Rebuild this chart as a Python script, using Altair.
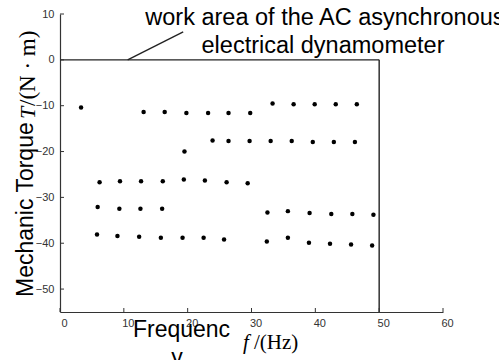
import altair as alt
import pandas as pd

# ---- data ----
freq = [3.3, 13.1, 16.4, 19.8, 23.2, 26.4, 29.8, 33.3, 36.6, 39.9, 43.2, 46.5,
        23.9, 26.4, 29.7, 33.0, 36.3, 39.6, 42.9, 46.2,
        19.5,
        6.2, 9.4, 12.7, 16.1, 19.4, 22.7, 26.1, 29.4,
        5.9, 9.3, 12.6, 16.0,
        5.8, 9.0, 12.4, 15.8, 19.2, 22.5, 25.7,
        32.5, 35.7, 39.1, 42.5, 45.8, 49.1,
        32.4, 35.7, 39.0, 42.3, 45.6, 48.9]
torque = [-10.4, -11.4, -11.4, -11.6, -11.6, -11.6, -11.6, -9.5, -9.7, -9.7, -9.7, -9.7,
          -17.6, -17.7, -17.7, -17.7, -17.7, -17.9, -17.9, -17.9,
          -20.0,
          -26.7, -26.5, -26.5, -26.5, -26.1, -26.3, -26.7, -26.9,
          -32.1, -32.5, -32.5, -32.5,
          -38.1, -38.4, -38.6, -38.8, -38.8, -38.8, -39.2,
          -33.3, -33.0, -33.4, -33.6, -33.6, -33.8,
          -39.6, -38.8, -39.9, -40.1, -40.3, -40.5]

x_ticks = [0, 10, 20, 30, 40, 50, 60]
y_ticks = [10, 0, -10, -20, -30, -40, -50]

# work-area boundary and leader line (data coordinates)
seg_x = [0, 50, 10.6]
seg_y = [0, 0, 0]
seg_x2 = [50, 50, 19.3]
seg_y2 = [0, -55, 6.1]

note_lines = ["work area of the AC asynchronous", "electrical dynamometer"]
note_x = [41.5, 41.2]
note_y = [7.6, 1.5]

W, H = 383, 298
SANS = "Liberation Sans"
SERIF = "Liberation Serif"

xs = alt.Scale(domain=[0, 60], nice=False, zero=False)
ys = alt.Scale(domain=[-55, 10], nice=False, zero=False)

pts = pd.DataFrame({"f": freq, "T": torque})
segs = pd.DataFrame({"x": seg_x, "y": seg_y, "x2": seg_x2, "y2": seg_y2})
notes = pd.DataFrame({"t": note_lines, "x": note_x, "y": note_y})
xt = pd.DataFrame({"v": x_ticks})
yt = pd.DataFrame({"v": y_ticks})
one = pd.DataFrame({"a": [0]})

points = alt.Chart(pts).mark_circle(size=20, color="black", opacity=1).encode(
    x=alt.X("f:Q", scale=xs,
            axis=alt.Axis(values=x_ticks, title=None, ticks=False, grid=False,
                          domainColor="#333", domainWidth=1.2,
                          labelFont=SANS, labelFontSize=11, labelColor="#333",
                          labelPadding=5, labelAlign="center", labelOffset=4)),
    y=alt.Y("T:Q", scale=ys,
            axis=alt.Axis(values=y_ticks, title=None, ticks=False, grid=False,
                          domainColor="#333", domainWidth=1.2,
                          labelFont=SANS, labelFontSize=11, labelColor="#333",
                          labelPadding=6)),
)

lines = alt.Chart(segs).mark_rule(color="#222", strokeWidth=1.4).encode(
    x=alt.X("x:Q", scale=xs), y=alt.Y("y:Q", scale=ys),
    x2="x2:Q", y2="y2:Q",
)

xtick = alt.Chart(xt).mark_rule(color="#333", strokeWidth=1).encode(
    x=alt.X("v:Q", scale=xs), y=alt.value(H), y2=alt.value(H - 4))
ytick = alt.Chart(yt).mark_rule(color="#333", strokeWidth=1).encode(
    y=alt.Y("v:Q", scale=ys), x=alt.value(0), x2=alt.value(4))

note = alt.Chart(notes).mark_text(font=SANS, fontSize=23.5, color="black",
                                  align="center", baseline="alphabetic").encode(
    x=alt.X("x:Q", scale=xs), y=alt.Y("y:Q", scale=ys), text="t:N")


def txt(s, px, py, font=SANS, size=23, angle=0, align="left", style="normal"):
    kw = dict(font=font, fontSize=size, color="black", align=align,
              baseline="alphabetic", fontStyle=style)
    if angle:
        kw["angle"] = angle
    return alt.Chart(one).mark_text(**kw).encode(
        x=alt.value(px), y=alt.value(py), text=alt.value(s))


titles = [
    txt("Mechanic Torque", -27, 283, angle=270),
    txt("T", -25, 105, font=SERIF, size=22, angle=270, style="italic"),
    txt("/(N · m)", -25, 92, font=SERIF, size=23, angle=270),
    txt("Frequenc", 121.5, 323, align="center"),
    txt("y", 117, 351, align="center"),
    txt("f", 183, 335, font=SERIF, size=21, style="italic"),
    txt("/(Hz)", 194, 335, font=SERIF, size=21),
]

chart = alt.layer(lines, xtick, ytick, points, note, *titles).properties(
    width=W, height=H,
    autosize=alt.AutoSizeParams(type="none"),
    padding={"left": 60, "top": 14, "right": 499 - 60 - W, "bottom": 360 - 14 - H},
    background="white",
).configure_view(strokeWidth=0)

chart.save("out.html", embed_options={"renderer": "svg", "actions": False})
